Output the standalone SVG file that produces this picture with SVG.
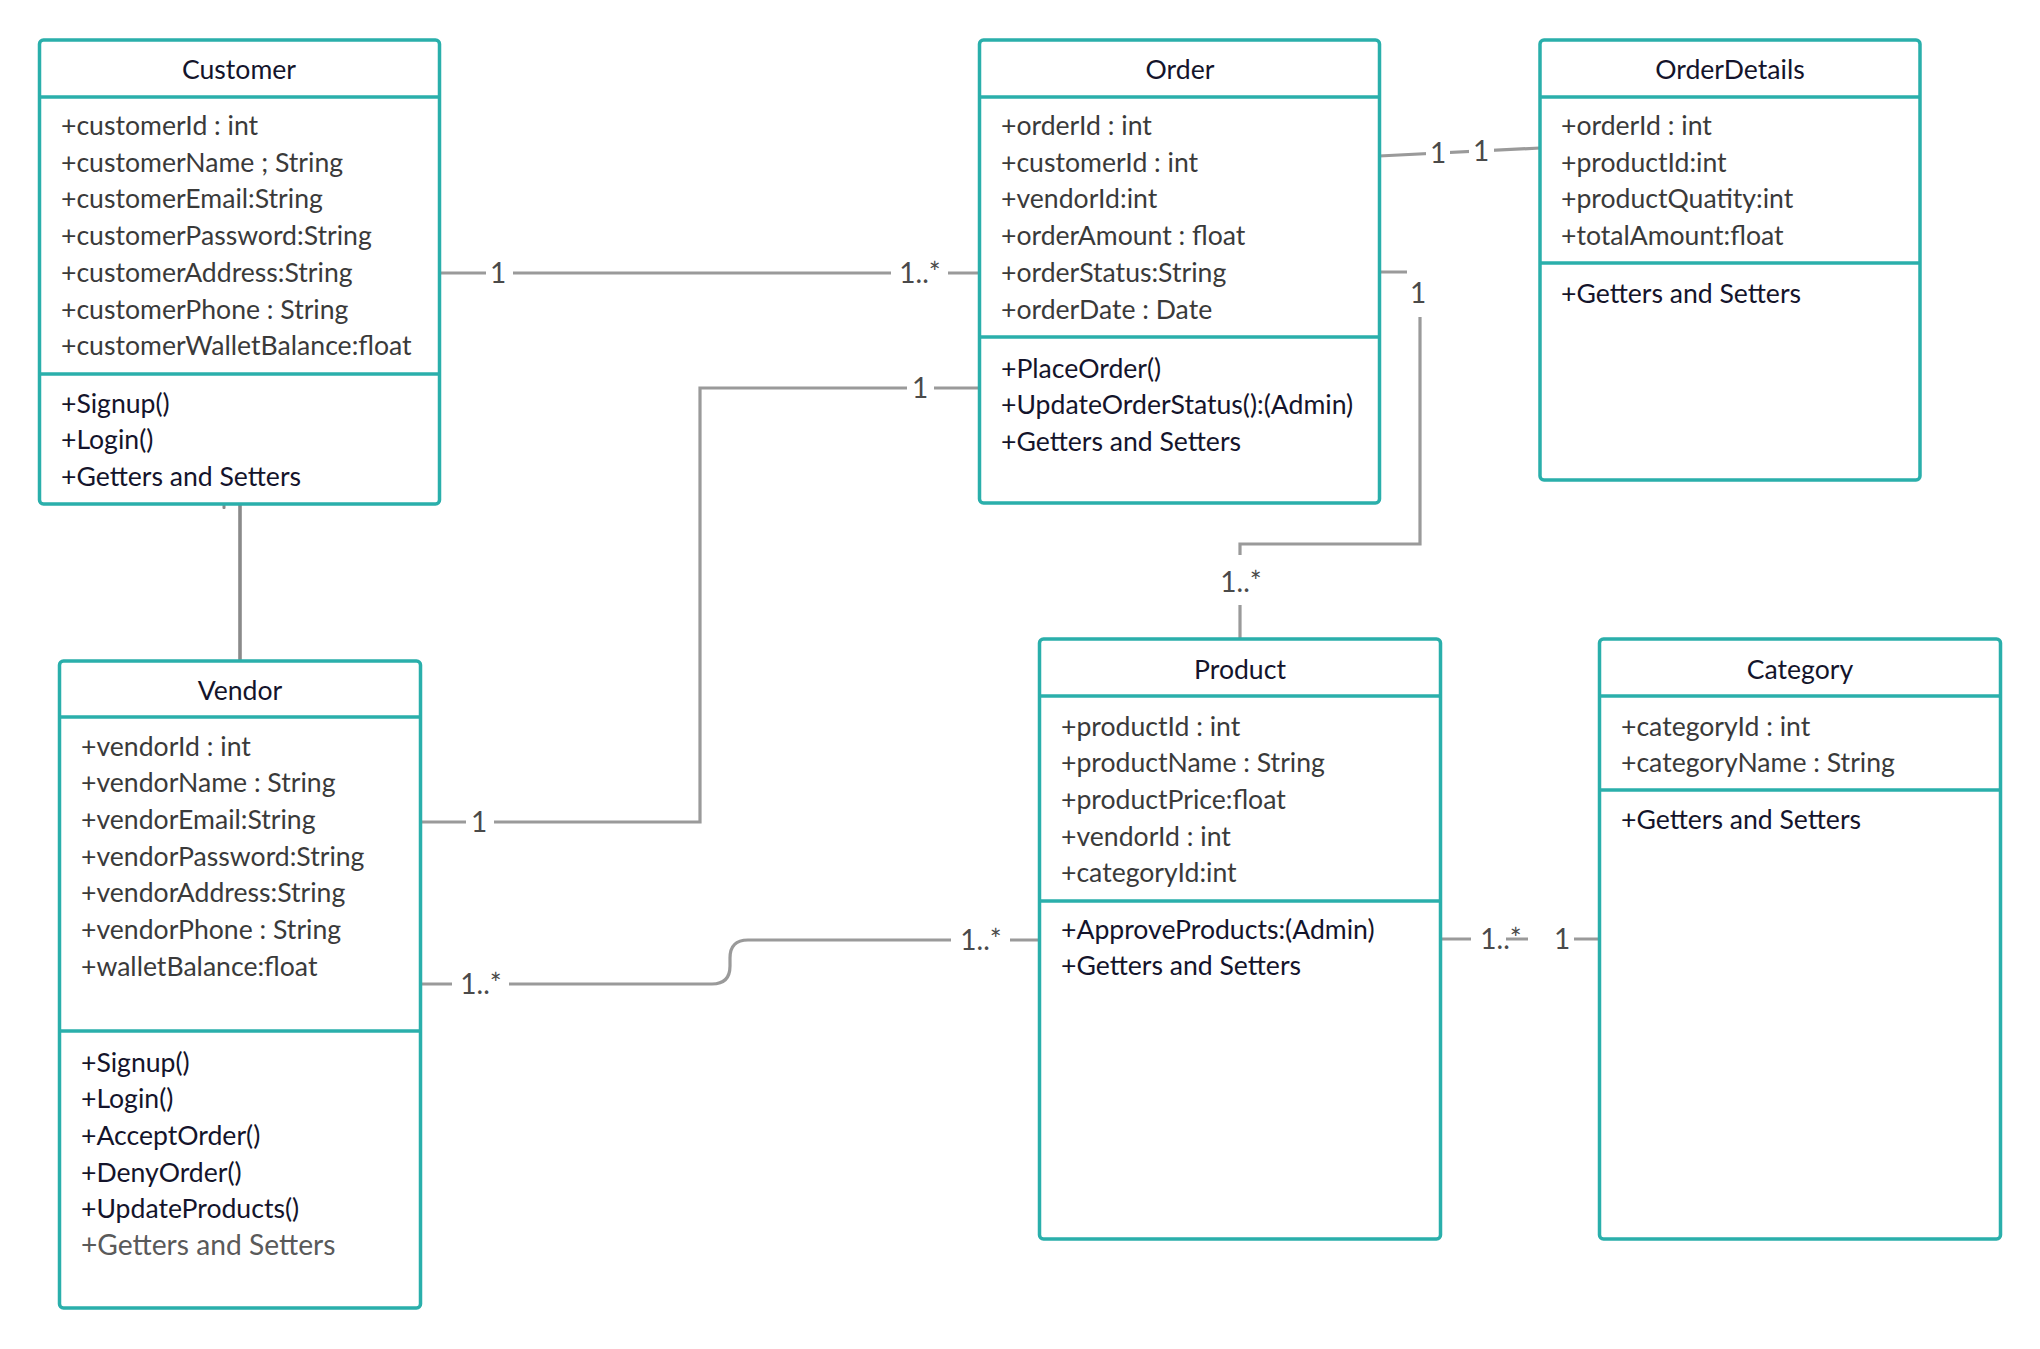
<svg xmlns="http://www.w3.org/2000/svg" width="2040" height="1349" viewBox="0 0 2040 1349">
  <style>
    .box { fill: #ffffff; stroke: #2aafab; stroke-width: 3.5; }
    .div { stroke: #2aafab; stroke-width: 3.5; }
    text { font-family: Lato, "Open Sans", "Liberation Sans", sans-serif; font-size: 26.6px; }
    .title { fill: #14142b; text-anchor: middle; }
    .attr { fill: #3a3a3a; }
    .meth { fill: #14142b; }
    .meth-dim { fill: #5a5a5a; font-size: 28.2px; }
    .edge { fill: none; stroke: #9a9a9a; stroke-width: 3.2; }
    .edge-dark { fill: none; stroke: #8a8a8a; stroke-width: 3.6; }
    .mult { fill: #4a4a4a; text-anchor: middle; font-size: 28px; }
    .nodes text { transform: translateY(1px); }
  </style>

  <!-- associations -->
  <g id="connectors">
    <!-- Customer 1 — 1..* Order -->
    <path class="edge" d="M439,273 H486 M513,273 H891 M948,273 H980"/>
    <text class="mult" x="498" y="283">1</text>
    <text class="mult" x="920" y="283">1..*</text>

    <!-- Order 1 — 1 OrderDetails -->
    <path class="edge" d="M1379,156 L1540,148"/>
    <rect x="1426" y="138" width="24" height="30" fill="#ffffff"/>
    <rect x="1469" y="136" width="25" height="30" fill="#ffffff"/>
    <text class="mult" x="1438" y="163">1</text>
    <text class="mult" x="1481" y="161">1</text>

    <!-- Order 1 — 1 Vendor -->
    <path class="edge" d="M980,388 H934 M907,388 H700 V822 H494 M466,822 H420"/>
    <text class="mult" x="920" y="398">1</text>
    <text class="mult" x="479" y="832">1</text>

    <!-- Order 1 — 1..* Product -->
    <path class="edge" d="M1379,272 H1407 M1420,317 V544 H1240 V555 M1240,605 V639"/>
    <text class="mult" x="1418" y="303">1</text>
    <text class="mult" x="1241" y="592">1..*</text>

    <!-- Vendor 1..* — 1..* Product -->
    <path class="edge" d="M420,984 H452 M509,984 H712 Q730,984 730,966 V958 Q730,940 748,940 H951 M1010,940 H1039"/>
    <text class="mult" x="481" y="994">1..*</text>
    <text class="mult" x="981" y="950">1..*</text>

    <!-- Product 1..* — 1 Category -->
    <path class="edge" d="M1441,939 H1471 M1506,939 H1528 M1574,939 H1600"/>
    <text class="mult" x="1501" y="949">1..*</text>
    <text class="mult" x="1562" y="949">1</text>

    <!-- Customer — Vendor -->
    <path class="edge-dark" d="M240,504 V661"/>
    <rect x="222.5" y="503" width="3" height="6" rx="1" fill="#8a8a8a"/>
  </g>

  <g class="nodes">
  <!-- Customer -->
  <g id="customer">
    <rect class="box" x="39.5" y="40" width="400" height="464" rx="4"/>
    <line class="div" x1="39.5" y1="97" x2="439.5" y2="97"/>
    <line class="div" x1="39.5" y1="374" x2="439.5" y2="374"/>
    <text class="title" x="239" y="78">Customer</text>
    <text class="attr" x="61" y="134">+customerId : int</text>
    <text class="attr" x="61" y="170.7">+customerName ; String</text>
    <text class="attr" x="61" y="207.4">+customerEmail:String</text>
    <text class="attr" x="61" y="244.1">+customerPassword:String</text>
    <text class="attr" x="61" y="280.8">+customerAddress:String</text>
    <text class="attr" x="61" y="317.5">+customerPhone : String</text>
    <text class="attr" x="61" y="354.2">+customerWalletBalance:float</text>
    <text class="meth" x="61" y="411.7">+Signup()</text>
    <text class="meth" x="61" y="448.4">+Login()</text>
    <text class="meth" x="61" y="485.1">+Getters and Setters</text>
  </g>

  <!-- Order -->
  <g id="order">
    <rect class="box" x="979.5" y="40" width="400" height="463" rx="4"/>
    <line class="div" x1="979.5" y1="97" x2="1379.5" y2="97"/>
    <line class="div" x1="979.5" y1="337" x2="1379.5" y2="337"/>
    <text class="title" x="1180" y="78">Order</text>
    <text class="attr" x="1001" y="134">+orderId : int</text>
    <text class="attr" x="1001" y="170.7">+customerId : int</text>
    <text class="attr" x="1001" y="207.4">+vendorId:int</text>
    <text class="attr" x="1001" y="244.1">+orderAmount : float</text>
    <text class="attr" x="1001" y="280.8">+orderStatus:String</text>
    <text class="attr" x="1001" y="317.5">+orderDate : Date</text>
    <text class="meth" x="1001" y="376.7">+PlaceOrder()</text>
    <text class="meth" x="1001" y="413.4">+UpdateOrderStatus():(Admin)</text>
    <text class="meth" x="1001" y="450.1">+Getters and Setters</text>
  </g>

  <!-- OrderDetails -->
  <g id="orderdetails">
    <rect class="box" x="1540" y="40" width="380" height="440" rx="4"/>
    <line class="div" x1="1540" y1="97" x2="1920" y2="97"/>
    <line class="div" x1="1540" y1="263" x2="1920" y2="263"/>
    <text class="title" x="1730" y="78">OrderDetails</text>
    <text class="attr" x="1561" y="134">+orderId : int</text>
    <text class="attr" x="1561" y="170.7">+productId:int</text>
    <text class="attr" x="1561" y="207.4">+productQuatity:int</text>
    <text class="attr" x="1561" y="244.1">+totalAmount:float</text>
    <text class="meth" x="1561" y="301.7">+Getters and Setters</text>
  </g>

  <!-- Vendor -->
  <g id="vendor">
    <rect class="box" x="59.5" y="661" width="361" height="647" rx="4"/>
    <line class="div" x1="59.5" y1="717" x2="420.5" y2="717"/>
    <line class="div" x1="59.5" y1="1031" x2="420.5" y2="1031"/>
    <text class="title" x="240" y="699">Vendor</text>
    <text class="attr" x="81" y="754.5">+vendorId : int</text>
    <text class="attr" x="81" y="791.2">+vendorName : String</text>
    <text class="attr" x="81" y="827.9">+vendorEmail:String</text>
    <text class="attr" x="81" y="864.6">+vendorPassword:String</text>
    <text class="attr" x="81" y="901.3">+vendorAddress:String</text>
    <text class="attr" x="81" y="938">+vendorPhone : String</text>
    <text class="attr" x="81" y="974.7">+walletBalance:float</text>
    <text class="meth" x="81" y="1070.5">+Signup()</text>
    <text class="meth" x="81" y="1107.2">+Login()</text>
    <text class="meth" x="81" y="1143.9">+AcceptOrder()</text>
    <text class="meth" x="81" y="1180.6">+DenyOrder()</text>
    <text class="meth" x="81" y="1217.3">+UpdateProducts()</text>
    <text class="meth-dim" x="81" y="1254">+Getters and Setters</text>
  </g>

  <!-- Product -->
  <g id="product">
    <rect class="box" x="1039.5" y="639" width="401" height="600" rx="4"/>
    <line class="div" x1="1039.5" y1="696" x2="1440.5" y2="696"/>
    <line class="div" x1="1039.5" y1="901" x2="1440.5" y2="901"/>
    <text class="title" x="1240" y="678">Product</text>
    <text class="attr" x="1061" y="734.5">+productId : int</text>
    <text class="attr" x="1061" y="771.2">+productName : String</text>
    <text class="attr" x="1061" y="807.9">+productPrice:float</text>
    <text class="attr" x="1061" y="844.6">+vendorId : int</text>
    <text class="attr" x="1061" y="881.3">+categoryId:int</text>
    <text class="meth" x="1061" y="937.5">+ApproveProducts:(Admin)</text>
    <text class="meth" x="1061" y="974.2">+Getters and Setters</text>
  </g>

  <!-- Category -->
  <g id="category">
    <rect class="box" x="1599.5" y="639" width="401" height="600" rx="4"/>
    <line class="div" x1="1599.5" y1="696" x2="2000.5" y2="696"/>
    <line class="div" x1="1599.5" y1="790" x2="2000.5" y2="790"/>
    <text class="title" x="1800" y="678">Category</text>
    <text class="attr" x="1621" y="734.5">+categoryId : int</text>
    <text class="attr" x="1621" y="771.2">+categoryName : String</text>
    <text class="meth" x="1621" y="827.6">+Getters and Setters</text>
  </g>
  </g>
</svg>
